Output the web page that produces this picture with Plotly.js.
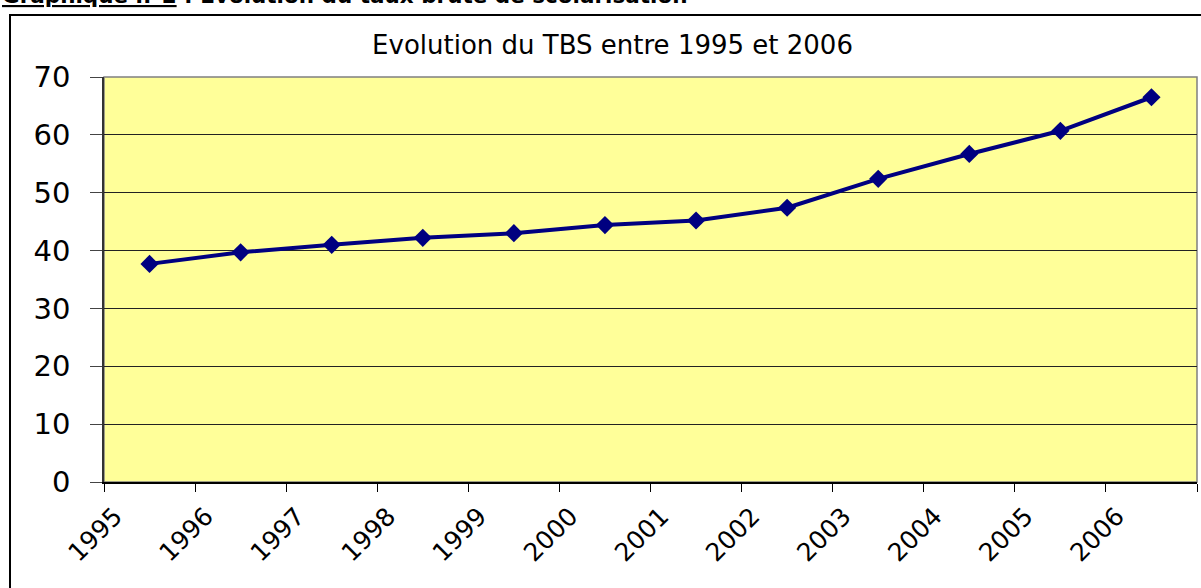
<!DOCTYPE html>
<html>
<head>
<meta charset="utf-8">
<script src="https://cdn.plot.ly/plotly-3.0.1.min.js"></script>
<style>html,body{margin:0;padding:0;background:#fff;}#chart{width:1201px;height:588px;}</style>
</head>
<body>
<div id="chart"></div>
<script>
// Data
const years = [1995, 1996, 1997, 1998, 1999, 2000, 2001, 2002, 2003, 2004, 2005, 2006];
const tbs = [37.7, 39.7, 41.0, 42.2, 43.0, 44.4, 45.2, 47.4, 52.4, 56.7, 60.7, 66.5];
const yTicks = [0, 10, 20, 30, 40, 50, 60, 70];
const chartTitle = "Evolution du TBS entre 1995 et 2006";
const docTitle = "<u>Graphique n°2</u> : Evolution du taux brute de scolarisation";

// Category boundaries (Excel-style: labels at the left boundary of each year)
const boundaryVals = years.map(y => y - 0.5).concat([years[years.length - 1] + 0.5]);
const labelVals = years.map(y => y - 0.5 + 0.12);
const labelText = years.map(String);

const trace = {
  x: years,
  y: tbs,
  type: "scatter",
  mode: "lines+markers",
  line: {color: "#000080", width: 4},
  marker: {symbol: "diamond", size: 14, color: "#000080"},
  hoverinfo: "x+y",
  showlegend: false
};

const layout = {
  width: 1201,
  height: 588,
  margin: {l: 104, r: 4, t: 77, b: 106},
  paper_bgcolor: "#ffffff",
  plot_bgcolor: "#FFFF99",
  font: {family: "DejaVu Sans, Arial, sans-serif", color: "#000"},
  title: {
    text: chartTitle,
    font: {family: "DejaVu Sans, Arial, sans-serif", size: 26, color: "#000"},
    xref: "container", yref: "container",
    x: 0.51, y: 1 - 45/588, xanchor: "center", yanchor: "middle"
  },
  xaxis: {
    type: "linear",
    range: [years[0] - 0.5, years[years.length - 1] + 0.5],
    tickmode: "array",
    tickvals: labelVals,
    ticktext: labelText,
    tickangle: -45,
    ticks: "",
    ticklabelstandoff: 8,
    minor: {
      tickmode: "array",
      tickvals: boundaryVals,
      ticks: "outside",
      ticklen: 8,
      tickcolor: "#000",
      tickwidth: 1,
      showgrid: false
    },
    showgrid: false,
    zeroline: false,
    showline: true,
    linecolor: "#000",
    linewidth: 1.5,
    tickfont: {family: "DejaVu Sans, Arial, sans-serif", size: 25, color: "#000"},
    fixedrange: true
  },
  yaxis: {
    range: [0, 70],
    tickmode: "array",
    tickvals: yTicks,
    ticks: "outside",
    ticklen: 12,
    tickcolor: "#444",
    tickwidth: 1,
    ticklabelstandoff: 14,
    showgrid: true,
    gridcolor: "#222",
    gridwidth: 1,
    zeroline: false,
    showline: true,
    linecolor: "#333",
    linewidth: 1.5,
    tickfont: {family: "DejaVu Sans, Arial, sans-serif", size: 29, color: "#000"},
    fixedrange: true
  },
  shapes: [
    {type: "rect", xref: "paper", yref: "paper", x0: 0, x1: 1, y0: 0, y1: 1,
     line: {color: "#808080", width: 1.5}, fillcolor: "rgba(0,0,0,0)", layer: "below"},
    {type: "rect", xref: "paper", yref: "paper", x0: (10 - 104) / 1093, x1: 1.2, y0: -0.5, y1: (482 - 15) / 405,
     line: {color: "#000", width: 2}, fillcolor: "rgba(0,0,0,0)", layer: "above"}
  ],
  annotations: [
    {text: docTitle, xref: "paper", yref: "paper", x: -104 / 1093, y: (482 - 10) / 405,
     xanchor: "left", yanchor: "bottom", showarrow: false,
     font: {family: "DejaVu Sans, Arial, sans-serif", size: 21.5, color: "#000", weight: "bold"}}
  ]
};

Plotly.newPlot("chart", [trace], layout, {displayModeBar: false, staticPlot: false});
</script>
</body>
</html>
